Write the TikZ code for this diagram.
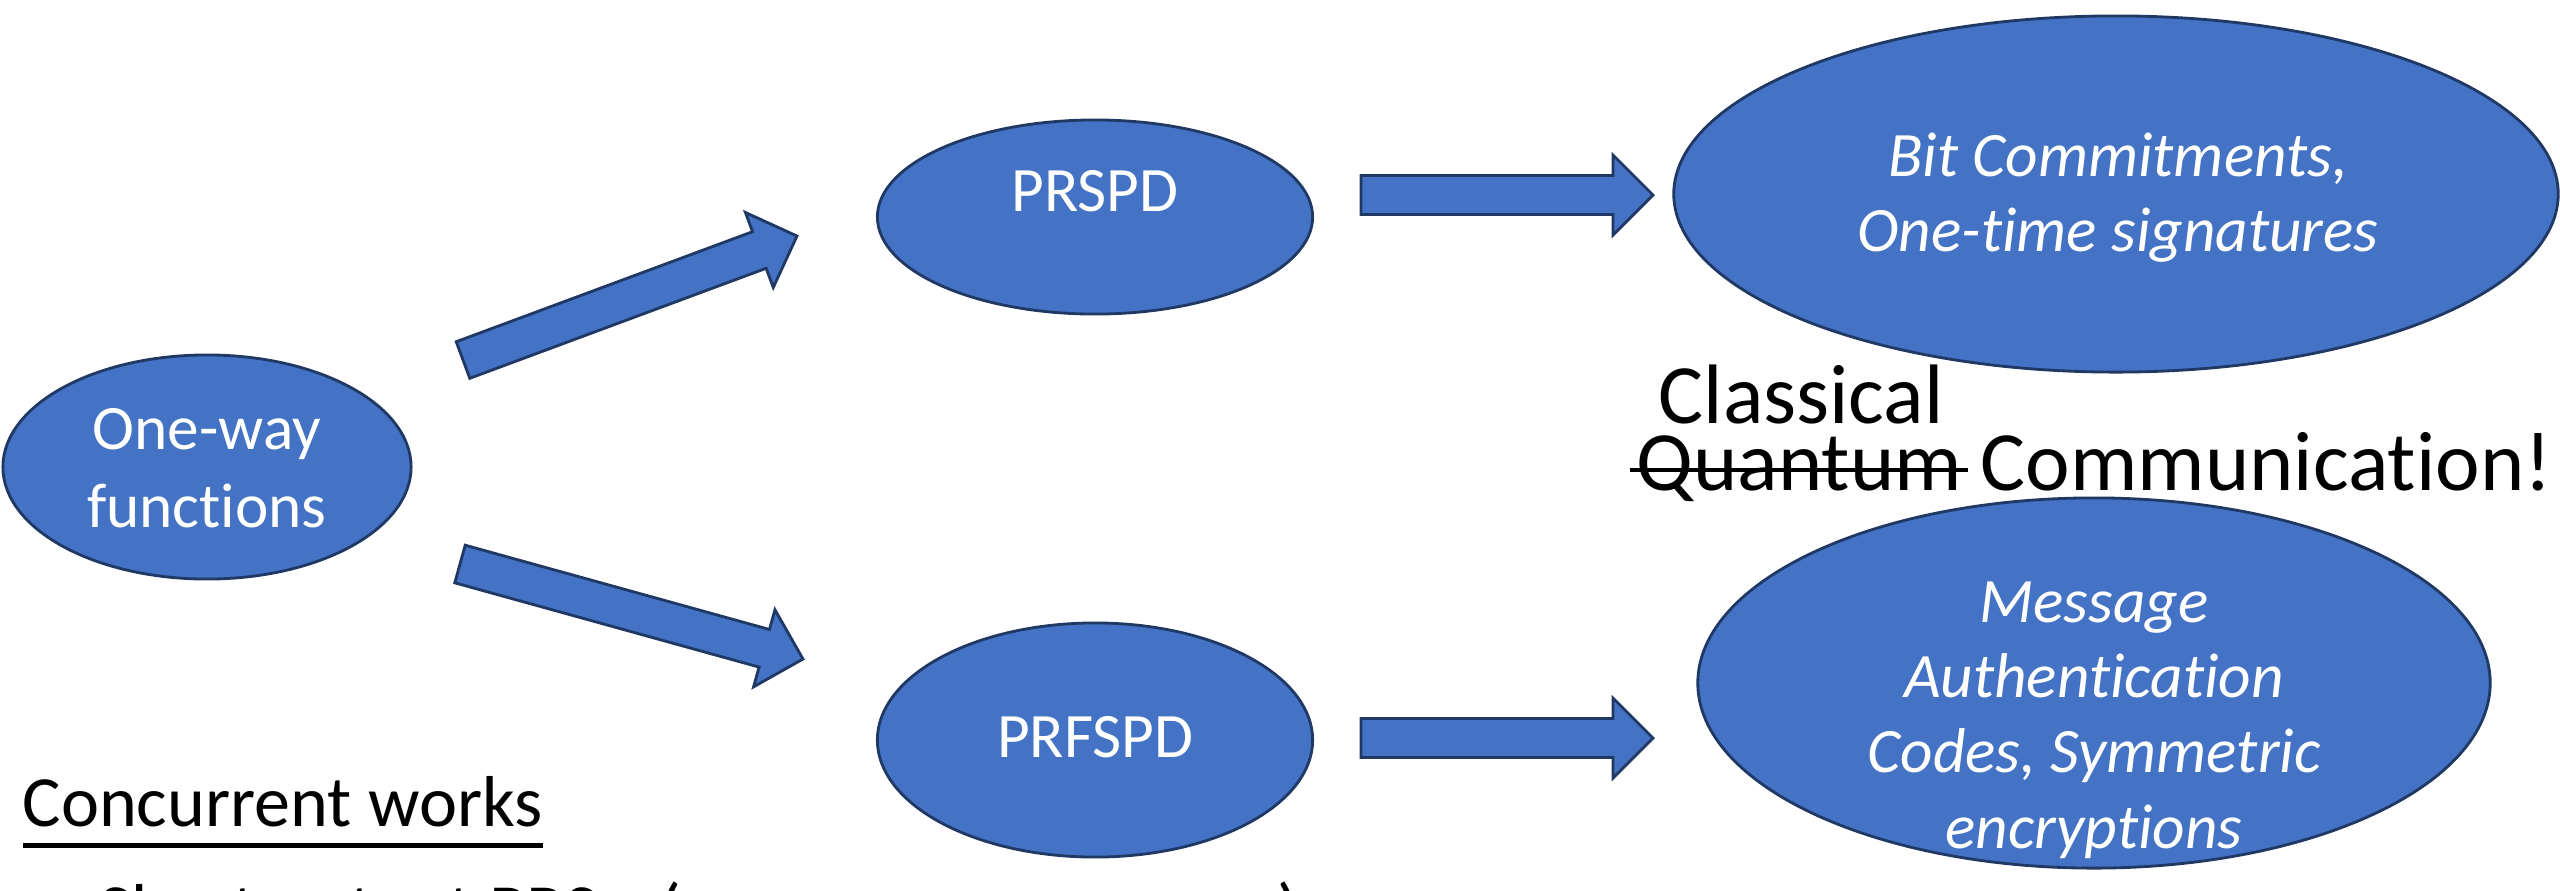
\documentclass[tikz,border=0pt]{standalone}
\usepackage{fontspec}
\setmainfont{Carlito}[Ligatures=NoCommon]
\usetikzlibrary{calc,shapes.geometric}

\definecolor{fillblue}{HTML}{4472C4}
\definecolor{edgeblue}{HTML}{1F3864}

\newsavebox\markbox
% struck-through word
\newcommand\crossout[1]{\sbox\markbox{#1}\rlap{\kern-0.08em\rule[0.21em]{\dimexpr\wd\markbox+0.15em\relax}{1.1pt}}\usebox\markbox}
% underlined word group
\newcommand\lineunder[1]{\sbox\markbox{#1}\rlap{\rule[-0.3em]{\wd\markbox}{1.2pt}}\usebox\markbox}

% block arrow from one named point to another
\newcommand\blockarrow[2]{%
  \filldraw[blockarr] let \p1=(#1), \p2=(#2),
      \n1={atan2(\y2-\y1,\x2-\x1)}, \n2={veclen(\x2-\x1,\y2-\y1)-0.4cm} in
    ($(\p1)+(\n1+90:0.195cm)$)
    -- ($(\p1)+(\n1:\n2)+(\n1+90:0.195cm)$)
    -- ($(\p1)+(\n1:\n2)+(\n1+90:0.40cm)$)
    -- (\p2)
    -- ($(\p1)+(\n1:\n2)+(\n1-90:0.40cm)$)
    -- ($(\p1)+(\n1:\n2)+(\n1-90:0.195cm)$)
    -- ($(\p1)+(\n1-90:0.195cm)$) -- cycle;}

\begin{document}
\begin{tikzpicture}[x=0.01cm,y=-0.01cm,
    oval/.style={ellipse, fill=fillblue, draw=edgeblue, line width=0.8pt, inner sep=0pt},
    intext/.style={text=white, font=\fontsize{18}{22}\selectfont, align=center, inner sep=0pt},
    usetext/.style={text=white, font=\fontsize{18}{21.4}\selectfont\itshape, align=center, inner sep=0pt},
    bigtext/.style={text=black, font=\fontsize{24}{28}\selectfont, inner sep=0pt, anchor=base west},
    notetext/.style={text=black, font=\fontsize{20.5}{24}\selectfont, inner sep=0pt, anchor=base west},
    blockarr/.style={fill=fillblue, draw=edgeblue, line width=0.8pt, line join=miter}]
\useasboundingbox (0,0) rectangle (2560,890);
\clip (0,0) rectangle (2560,890);

% primitives
\node[oval, minimum width=4.08cm, minimum height=2.24cm] (owf) at (207,467) {};
\node[intext] (owf-t) at (207,468) {One-way\\functions};

% derived quantum objects
\node[oval, minimum width=4.35cm, minimum height=1.94cm] (prspd) at (1095,217) {};
\node[intext] (prspd-t) at (1095,191) {PRSPD};
\node[oval, minimum width=4.35cm, minimum height=2.34cm] (prfspd) at (1095,740) {};
\node[intext] (prfspd-t) at (1095,737) {PRFSPD};

% applications
\node[oval, minimum width=8.84cm, minimum height=3.56cm] (sig) at (2116,194) {};
\node[usetext] (sig-t) at (2118,198) {Bit Commitments,\\One-time signatures};
\node[oval, minimum width=7.92cm, minimum height=3.70cm] (mac) at (2094,683) {};
\node[usetext] (mac-t) at (2094,720) {Message\\Authentication\\Codes, Symmetric\\encryptions};

% block arrows between the ovals
\coordinate (a1s) at (463,360);  \coordinate (a1e) at (797,236);
\coordinate (a2s) at (460,564);  \coordinate (a2e) at (803,659);
\coordinate (a3s) at (1361,195); \coordinate (a3e) at (1653,195);
\coordinate (a4s) at (1361,738); \coordinate (a4e) at (1653,738);
\blockarrow{a1s}{a1e}
\blockarrow{a2s}{a2e}
\blockarrow{a3s}{a3e}
\blockarrow{a4s}{a4e}

% remark between the application ovals
\node[bigtext] (classical) at (1658,423) {Classical};
\node[bigtext] (comm) at (1636,490) {\crossout{Quantum} Communication!};

% notes
\node[notetext] (conc) at (22,826) {\lineunder{Concurrent works}};
\node[notetext] (short) at (98,934) {Short output PRS\hspace{0.62cm}(\hspace{5.95cm})};
\end{tikzpicture}
\end{document}
